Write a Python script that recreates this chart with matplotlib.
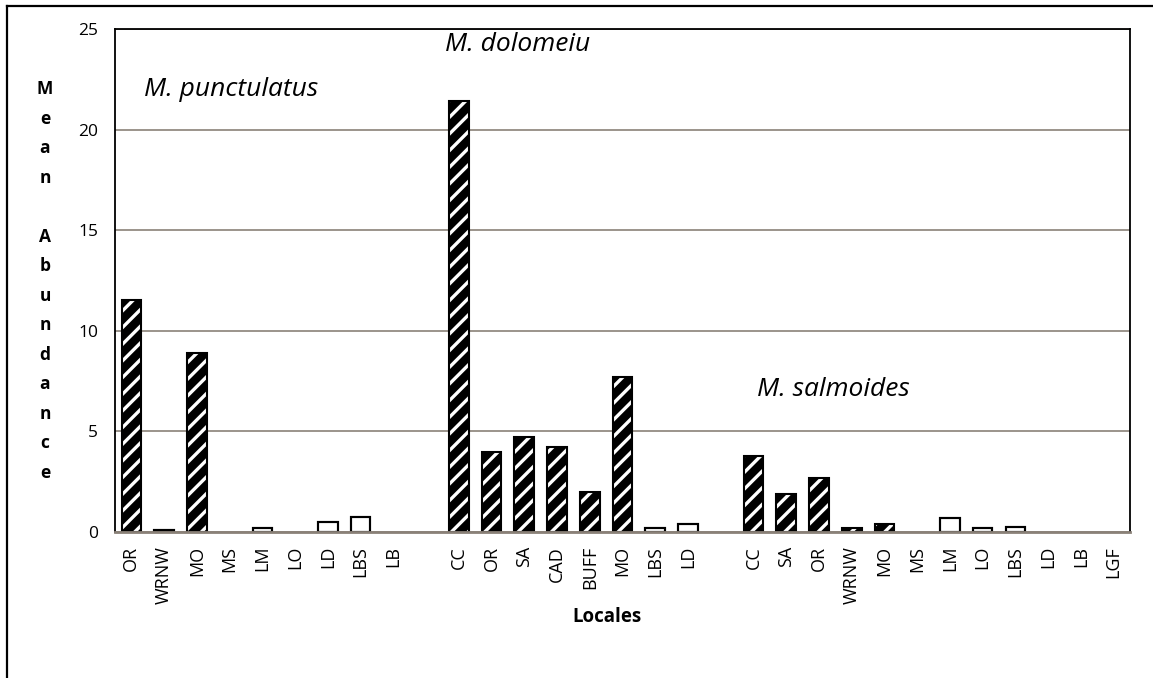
import matplotlib
matplotlib.use('Agg')
import matplotlib.pyplot as plt
from matplotlib.lines import Line2D
import numpy as np

plt.rcParams['font.family'] = ['Open Sans', 'DejaVu Sans']
plt.rcParams['hatch.linewidth'] = 2.4

# mean abundance per locale, one block per species
punct_labels = ['OR', 'WRNW', 'MO', 'MS', 'LM', 'LO', 'LD', 'LBS', 'LB']
punct_values = [11.55, 0.1, 8.9, 0, 0.18, 0, 0.5, 0.76, 0]
punct_open = ['WRNW', 'LM', 'LD', 'LBS']

dolo_labels = ['CC', 'OR', 'SA', 'CAD', 'BUFF', 'MO', 'LBS', 'LD']
dolo_values = [21.4, 4.0, 4.7, 4.2, 2.0, 7.7, 0.18, 0.4]
dolo_open = ['LBS', 'LD']

salm_labels = ['CC', 'SA', 'OR', 'WRNW', 'MO', 'MS', 'LM', 'LO', 'LBS', 'LD', 'LB', 'LGF']
salm_values = [3.8, 1.9, 2.7, 0.2, 0.4, 0, 0.7, 0.22, 0.25, 0, 0, 0]
salm_open = ['LM', 'LO', 'LBS']

groups = [
    ('M. punctulatus', punct_labels, punct_values, punct_open),
    ('M. dolomeiu', dolo_labels, dolo_values, dolo_open),
    ('M. salmoides', salm_labels, salm_values, salm_open),
]

fig = plt.figure(figsize=(11.53, 6.78), dpi=100)
ax = fig.add_axes([115 / 1153, 1 - 532 / 678, (1130 - 115) / 1153, (532 - 29) / 678])

grid_col = '#8a8178'
ticks, ticklabels, starts = [], [], []
pos = 0
for name, labels, values, open_ in groups:
    starts.append(pos)
    x = np.arange(pos, pos + len(labels))
    vals = np.array(values, dtype=float)
    hatched = np.array([lab not in open_ for lab in labels]) & (vals > 0)
    plain = np.array([lab in open_ for lab in labels]) & (vals > 0)
    ax.bar(x[hatched], vals[hatched], width=0.6, color='black',
           edgecolor='white', hatch='//', linewidth=0, zorder=3)
    ax.bar(x[plain], vals[plain], width=0.6, color='white',
           edgecolor='black', linewidth=1.5, zorder=3)
    ax.bar(x[vals > 0], vals[vals > 0], width=0.6, fill=False, edgecolor='black',
           linewidth=1.5, zorder=4)
    ticks.extend(x)
    ticklabels.extend(labels)
    pos += len(labels) + 1

ax.set_xlim(-0.5, pos - 1.5)
ax.set_ylim(0, 25)
ax.set_yticks(np.arange(0, 26, 5))
ax.set_xticks(ticks)
ax.set_xticklabels(ticklabels, rotation=90, fontsize=13)
ax.tick_params(axis='both', length=0)
ax.tick_params(axis='y', pad=12, labelsize=12.5)
ax.tick_params(axis='x', pad=10)
ax.yaxis.grid(True, color=grid_col, linewidth=1.2, zorder=0)
ax.set_axisbelow(True)
for s in ['top', 'right', 'left']:
    ax.spines[s].set_color('black')
    ax.spines[s].set_linewidth(1.3)
ax.spines['bottom'].set_color(grid_col)
ax.spines['bottom'].set_linewidth(2)
ax.spines['bottom'].set_zorder(5)

# species names
ax.text(starts[0] + 0.39, 22.0, groups[0][0], style='italic', fontsize=19, va='center')
ax.text(starts[1] - 0.42, 24.25, groups[1][0], style='italic', fontsize=19, va='center')
ax.text(starts[2] + 0.1, 7.07, groups[2][0], style='italic', fontsize=19, va='center')

ax.set_xlabel('Locales', fontsize=13.5, fontweight='bold', labelpad=0)
ax.xaxis.set_label_coords(0.485, -0.15)
fig.text(45 / 1153, 1 - 281 / 678, '\n'.join('Mean Abundance'), fontweight='bold',
         fontsize=12.5, ha='center', va='center', linespacing=1.82)

# outer frame (top and left edges)
fig.add_artist(Line2D([7 / 1153, 7 / 1153], [0, 1 - 6 / 678], color='black', lw=1.6,
                      transform=fig.transFigure))
fig.add_artist(Line2D([7 / 1153, 1], [1 - 6 / 678, 1 - 6 / 678], color='black', lw=1.6,
                      transform=fig.transFigure))

fig.savefig('out.png', dpi=100)
